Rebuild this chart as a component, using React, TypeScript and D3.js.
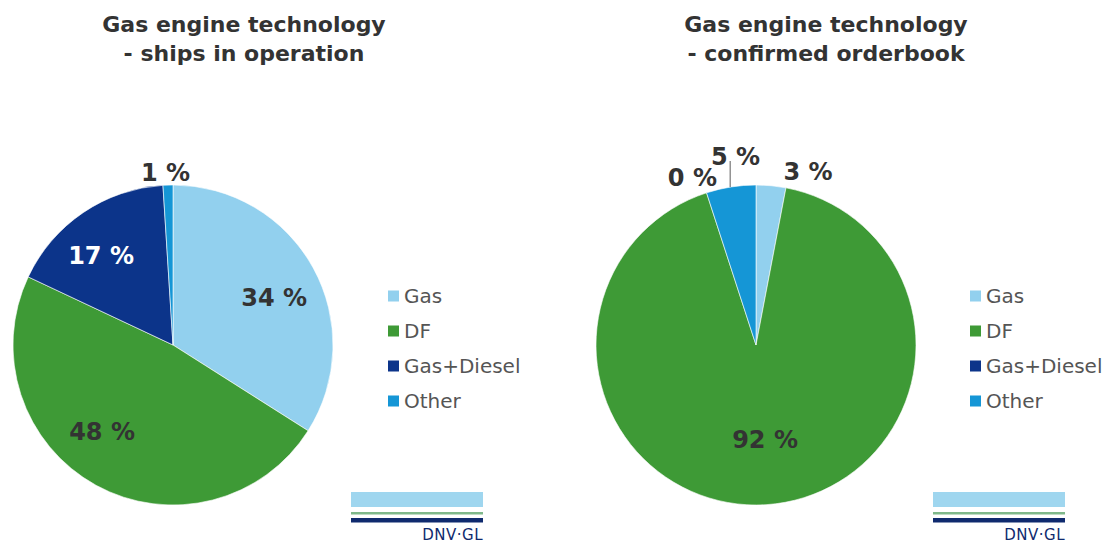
import React from "react";
import * as d3 from "d3";

const categories = ["Gas", "DF", "Gas+Diesel", "Other"];
const operationValues = [34, 48, 17, 1];
const orderbookValues = [3, 92, 0, 5];
const titlesLeft = ["Gas engine technology", "- ships in operation"];
const titlesRight = ["Gas engine technology", "- confirmed orderbook"];
const colors = ["#92d0ee", "#3e9a36", "#0c348a", "#1596d6"];

type LabelStyle = { r: number; dx: number; dy: number; fill: string; leader?: boolean };

const leftLabelStyles: LabelStyle[] = [
  { r: 112, dx: 3, dy: 7, fill: "#333" },
  { r: 112, dx: -17, dy: -11, fill: "#333" },
  { r: 112, dx: -9, dy: 4, fill: "#ffffff" },
  { r: 175, dx: -2, dy: 3, fill: "#333" },
];
const rightLabelStyles: LabelStyle[] = [
  { r: 180, dx: 35, dy: 6, fill: "#333" },
  { r: 96, dx: 3, dy: -1, fill: "#333" },
  { r: 180, dx: -8, dy: 4, fill: "#333" },
  { r: 195, dx: 10, dy: 5, fill: "#333", leader: true },
];

const R = 160;
const FONT = "'DejaVu Sans', Verdana, sans-serif";

function Pie({ cx, cy, values, labelStyles }: { cx: number; cy: number; values: number[]; labelStyles: LabelStyle[] }) {
  const pie = d3.pie<number>().sort(null).value((d) => d);
  const arcs = pie(values);
  const arc = d3.arc<d3.PieArcDatum<number>>().innerRadius(0).outerRadius(R);
  const fmt = (v: number) => `${v} %`;
  return (
    <g transform={`translate(${cx},${cy})`}>
      {arcs.map((a, i) => (
        <path key={i} d={arc(a) || ""} fill={colors[i]} stroke="#ffffff" strokeWidth={a.value > 0 ? 0.6 : 0} />
      ))}
      {arcs.map((a, i) => {
        const st = labelStyles[i];
        const mid = (a.startAngle + a.endAngle) / 2;
        const x = st.r * Math.sin(mid) + st.dx;
        const y = -st.r * Math.cos(mid) + st.dy;
        const lx = (R + 5) * Math.sin(mid);
        return (
          <g key={"l" + i}>
            {st.leader && (
              <line x1={lx} x2={lx} y1={-R - 24} y2={-R + 2} stroke="#777" strokeWidth={1.2} />
            )}
            <text
              x={x}
              y={y}
              textAnchor="middle"
              dominantBaseline="central"
              fontFamily={FONT}
              fontWeight="bold"
              fontSize={24}
              fill={st.fill}
            >
              {fmt(a.data)}
            </text>
          </g>
        );
      })}
    </g>
  );
}

function Legend({ x, y }: { x: number; y: number }) {
  const step = 35;
  return (
    <g transform={`translate(${x},${y})`}>
      {categories.map((c, i) => (
        <g key={c} transform={`translate(0,${i * step})`}>
          <rect x={0} y={-5.5} width={11} height={11} fill={colors[i]} />
          <text x={16} y={7} fontFamily={FONT} fontSize={20} fill="#555">
            {c}
          </text>
        </g>
      ))}
    </g>
  );
}

function Logo({ x }: { x: number }) {
  const w = 132;
  return (
    <g>
      <rect x={x} y={492} width={w} height={15} fill="#9fd6ef" />
      <rect x={x} y={512} width={w} height={2.5} fill="#7fb88a" />
      <rect x={x} y={518} width={w} height={4.5} fill="#0f2a6e" />
      <text x={x + w} y={540} textAnchor="end" fontFamily={FONT} fontSize={15} fill="#0f2a6e" letterSpacing={0.5}>
        DNV·GL
      </text>
    </g>
  );
}

function Title({ x, lines }: { x: number; lines: string[] }) {
  return (
    <text textAnchor="middle" fontFamily={FONT} fontWeight="bold" fontSize={22} fill="#333">
      {lines.map((l, i) => (
        <tspan key={i} x={x} y={32 + i * 29}>
          {l}
        </tspan>
      ))}
    </text>
  );
}

export default function App() {
  return (
    <svg
      width={1115}
      height={545}
      style={{ position: "absolute", left: 0, top: 0, background: "#ffffff" }}
    >
      <rect x={0} y={0} width={1115} height={545} fill="#ffffff" />
      <Title x={244} lines={titlesLeft} />
      <Title x={826} lines={titlesRight} />
      <Pie cx={173} cy={345} values={operationValues} labelStyles={leftLabelStyles} />
      <Pie cx={756} cy={345} values={orderbookValues} labelStyles={rightLabelStyles} />
      <Legend x={388} y={296} />
      <Legend x={970} y={296} />
      <Logo x={351} />
      <Logo x={933} />
    </svg>
  );
}
